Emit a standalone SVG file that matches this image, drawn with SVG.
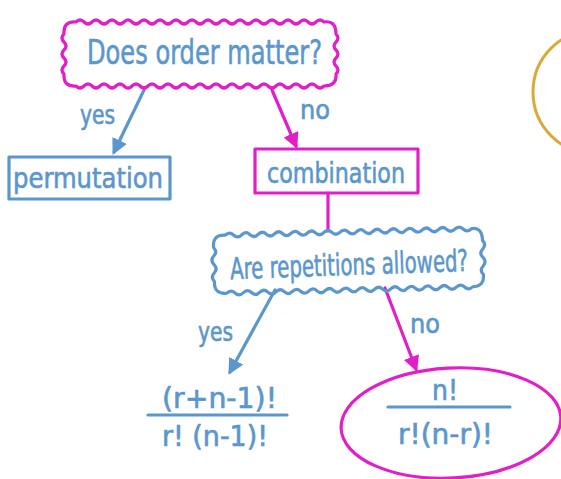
<svg xmlns="http://www.w3.org/2000/svg" width="561" height="479" viewBox="0 0 561 479">
<defs>
<style>
.pk{fill:none;stroke:#e21ec8;stroke-width:3.2;stroke-linejoin:round;stroke-linecap:round}
.bl{fill:none;stroke:#5b97cc;stroke-width:3.2;stroke-linejoin:round;stroke-linecap:round}
.t{font-family:"DejaVu Sans Condensed","DejaVu Sans",sans-serif;fill:#5b97cc;stroke:#5b97cc;stroke-width:0.6}
</style>
<marker id="ab" viewBox="0 0 10 10" refX="8" refY="5" markerWidth="5" markerHeight="5" orient="auto" markerUnits="strokeWidth"><path d="M0 0 L10 5 L0 10 Z" fill="#5b97cc"/></marker>
<marker id="ap" viewBox="0 0 10 10" refX="8" refY="5" markerWidth="5" markerHeight="5" orient="auto" markerUnits="strokeWidth"><path d="M0 0 L10 5 L0 10 Z" fill="#e21ec8"/></marker>
</defs>
<rect width="561" height="479" fill="#ffffff"/>
<circle cx="595" cy="92" r="62" fill="none" stroke="#d9a93a" stroke-width="3"/>
<g id="connectors">
<line class="bl" x1="145" y1="88" x2="114" y2="152" marker-end="url(#ab)"/>
<line class="pk" x1="272" y1="90" x2="296" y2="146" marker-end="url(#ap)"/>
<line class="pk" x1="328" y1="193" x2="328" y2="231"/>
<line class="bl" x1="275" y1="290" x2="230" y2="372" marker-end="url(#ab)"/>
<line class="pk" x1="385" y1="288" x2="416" y2="369" marker-end="url(#ap)"/>
<text class="t" x="80" y="124" font-size="26" textLength="35" lengthAdjust="spacingAndGlyphs">yes</text>
<text class="t" x="300" y="119" font-size="26" textLength="30" lengthAdjust="spacingAndGlyphs">no</text>
<text class="t" x="198" y="341" font-size="26" textLength="35" lengthAdjust="spacingAndGlyphs">yes</text>
<text class="t" x="410" y="333" font-size="26" textLength="30" lengthAdjust="spacingAndGlyphs">no</text>
</g>
<g id="q-order">
<path class="pk" d="M76 22 q4 -4 8 0 t8 0 t8 0 t8 0 t8 0 t8 0 t8 0 t8 0 t8 0 t8 0 t8 0 t8 0 t8 0 t8 0 t8 0 t8 0 t8 0 t8 0 t8 0 t8 0 t8 0 t8 0 t8 0 t8 0 t8 0 t8 0 t8 0 t8 0 t8 0 t8 0 t8 0 Q336 20 336 34 q4 4 0 8 t0 8 t0 8 t0 8 t0 8 Q337 86 324 86 q-4 4 -8 0 t-8 0 t-8 0 t-8 0 t-8 0 t-8 0 t-8 0 t-8 0 t-8 0 t-8 0 t-8 0 t-8 0 t-8 0 t-8 0 t-8 0 t-8 0 t-8 0 t-8 0 t-8 0 t-8 0 t-8 0 t-8 0 t-8 0 t-8 0 t-8 0 t-8 0 t-8 0 t-8 0 t-8 0 t-8 0 t-8 0 Q63 87 64 74 q-4 -4 0 -8 t0 -8 t0 -8 t0 -8 t0 -8 Q63 21 76 22 Z"/>
<text class="t" x="87" y="64" font-size="34" textLength="235" lengthAdjust="spacingAndGlyphs">Does order matter?</text>
</g>
<g id="permutation">
<rect class="bl" x="9" y="157" width="161" height="42"/>
<text class="t" x="13" y="188" font-size="29" textLength="150" lengthAdjust="spacingAndGlyphs">permutation</text>
</g>
<g id="combination">
<rect class="pk" x="255" y="149" width="163" height="44"/>
<text class="t" x="267" y="183" font-size="28" textLength="138" lengthAdjust="spacingAndGlyphs">combination</text>
</g>
<g id="q-repetitions">
<path class="bl" transform="rotate(-1.5 348 261)" d="M226 232 q4.1 -4 8.2 0 t8.2 0 t8.2 0 t8.2 0 t8.2 0 t8.2 0 t8.2 0 t8.2 0 t8.2 0 t8.2 0 t8.2 0 t8.2 0 t8.2 0 t8.2 0 t8.2 0 t8.2 0 t8.2 0 t8.2 0 t8.2 0 t8.2 0 t8.2 0 t8.2 0 t8.2 0 t8.2 0 t8.2 0 t8.2 0 t8.2 0 t8.2 0 t8.2 0 t8.2 0 Q483 230 483 244 q4 4.25 0 8.5 t0 8.5 t0 8.5 t0 8.5 Q484 290 472 290 q-4.1 4 -8.2 0 t-8.2 0 t-8.2 0 t-8.2 0 t-8.2 0 t-8.2 0 t-8.2 0 t-8.2 0 t-8.2 0 t-8.2 0 t-8.2 0 t-8.2 0 t-8.2 0 t-8.2 0 t-8.2 0 t-8.2 0 t-8.2 0 t-8.2 0 t-8.2 0 t-8.2 0 t-8.2 0 t-8.2 0 t-8.2 0 t-8.2 0 t-8.2 0 t-8.2 0 t-8.2 0 t-8.2 0 t-8.2 0 t-8.2 0 Q213 291 214 278 q-4 -4.25 0 -8.5 t0 -8.5 t0 -8.5 t0 -8.5 Q213 231 226 232 Z"/>
<text class="t" x="230" y="275" font-size="30" textLength="238" lengthAdjust="spacingAndGlyphs" transform="rotate(-2 349 265)">Are repetitions allowed?</text>
</g>
<g id="with-repetition">
<text class="t" x="162" y="408" font-size="28" textLength="115" lengthAdjust="spacingAndGlyphs">(r+n-1)!</text>
<line class="bl" x1="148" y1="415" x2="287" y2="415"/>
<text class="t" x="162" y="446" font-size="28" textLength="106" lengthAdjust="spacingAndGlyphs">r! (n-1)!</text>
</g>
<g id="without-repetition">
<ellipse class="pk" cx="451" cy="423" rx="110" ry="55" transform="rotate(-3 451 423)"/>
<text class="t" x="432" y="400" font-size="28" textLength="26" lengthAdjust="spacingAndGlyphs">n!</text>
<line class="bl" x1="388" y1="407" x2="510" y2="407"/>
<text class="t" x="398" y="444" font-size="28" textLength="95" lengthAdjust="spacingAndGlyphs">r!(n-r)!</text>
</g>
</svg>
